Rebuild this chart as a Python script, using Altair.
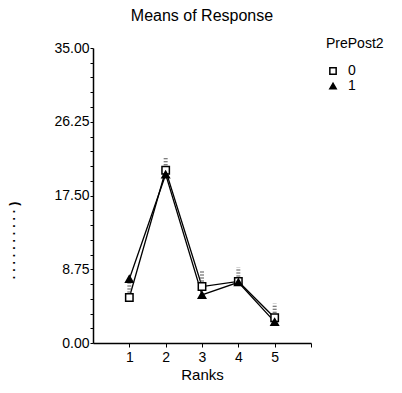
import altair as alt
import pandas as pd

ranks = [1, 2, 3, 4, 5]
group0 = [5.4, 20.5, 6.7, 7.3, 3.0]
group1 = [7.6, 20.0, 5.7, 7.2, 2.5]
group0_upper = [7.3, 22.0, 8.6, 9.0, 4.7]

rows = []
for r, a, b in zip(ranks, group0, group1):
    rows.append({"Ranks": r, "Mean": a, "PrePost2": "0"})
    rows.append({"Ranks": r, "Mean": b, "PrePost2": "1"})
df = pd.DataFrame(rows)
dots = pd.DataFrame({"Ranks": ranks, "lo": [v + 0.6 for v in group0], "hi": group0_upper})

font = "Liberation Sans"
x = alt.X("Ranks:Q", scale=alt.Scale(domain=[0, 6], nice=False),
          axis=alt.Axis(values=[1, 2, 3, 4, 5, 6], tickCount=10, title="Ranks", grid=False,
                        labelExpr="datum.value == 6 ? '' : format(datum.value, 'd')",
                        labelFontSize=14, titleFontSize=15, titleFontWeight="normal",
                        labelFont=font, titleFont=font, labelColor="black", titleColor="black",
                        tickColor="black", domainColor="black", domainWidth=1.5,
                        tickSize=4, labelPadding=3, titlePadding=3))
yvals = [round(1.75 * k, 2) for k in range(21)]
y = alt.Y("Mean:Q", scale=alt.Scale(domain=[0, 35], nice=False),
          axis=alt.Axis(values=yvals, tickCount=30, grid=False,
                        title="·  ·  ·  ·  ·  ·  ·  ·  ·  ·  )",
                        labelExpr="abs(datum.value/8.75 - round(datum.value/8.75)) < 0.001 ? format(datum.value, '.2f') : ''",
                        labelOverlap=False, labelFontSize=14, labelFont=font, labelColor="black",
                        titleFontSize=12, titleFontWeight="bold", titleFont=font, titleColor="black",
                        titleX=-73, titleY=192, titleAngle=-90,
                        tickColor="black", domainColor="black", domainWidth=1.5,
                        tickSize=3, labelPadding=1))

lines = alt.Chart(df).mark_line(color="black", strokeWidth=1.3).encode(
    x=x, y=y, detail="PrePost2:N")

stipple = alt.Chart(dots).mark_rule(color="#555", strokeWidth=4, strokeDash=[1, 2]).encode(
    x="Ranks:Q", y="lo:Q", y2="hi:Q")

legend = alt.Legend(title="PrePost2", orient="none", legendX=233, legendY=-11,
                    titleFontSize=14, titleFontWeight="normal", titleFont=font,
                    labelFontSize=14, labelFont=font, titleColor="black",
                    labelColor="black", symbolSize=40, rowPadding=1,
                    symbolStrokeWidth=1.5, titlePadding=13, labelOffset=8)

pts = alt.Chart(df).mark_point(size=55, strokeWidth=1.5, opacity=1, filled=True).encode(
    x=x, y=y,
    shape=alt.Shape("PrePost2:N", scale=alt.Scale(domain=["0", "1"], range=["square", "triangle-up"]),
                    legend=legend),
    fill=alt.Fill("PrePost2:N", scale=alt.Scale(domain=["0", "1"], range=["white", "black"]),
                  legend=legend),
    stroke=alt.Stroke("PrePost2:N", scale=alt.Scale(domain=["0", "1"], range=["black", "black"]),
                      legend=legend),
)

chart = alt.layer(lines, stipple, pts).properties(
    width=218, height=295,
    title=alt.TitleParams("Means of Response", fontSize=16, fontWeight="normal", font=font,
                          color="black", offset=13, anchor="middle"),
    autosize=alt.AutoSizeParams(type="none"),
    padding={"left": 85, "top": 40, "right": 83, "bottom": 42},
).configure_view(stroke=None)

chart.save("out.html", embed_options={"renderer": "svg", "actions": False})
